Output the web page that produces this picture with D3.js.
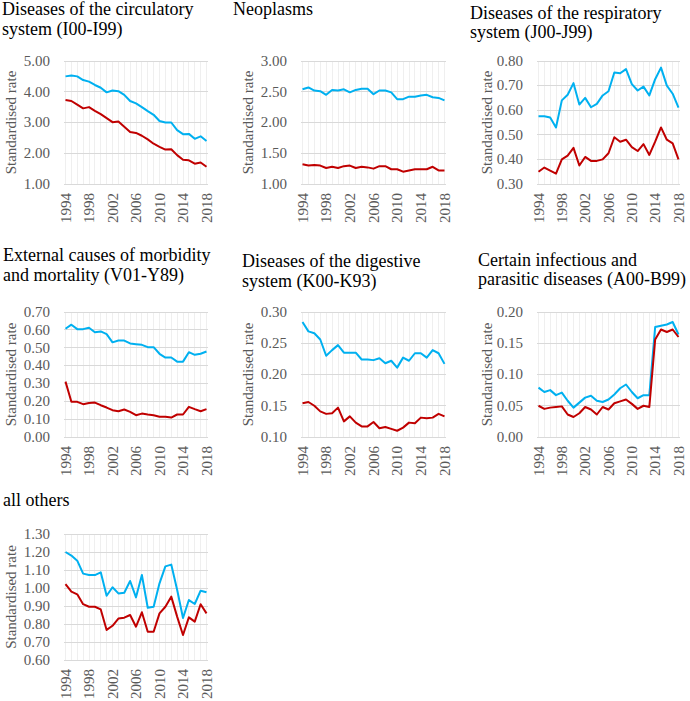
<!DOCTYPE html>
<html><head><meta charset="utf-8">
<script src="https://cdn.jsdelivr.net/npm/d3@7"></script>
<style>body{margin:0;background:#fff}</style>
</head><body>
<svg id="chart" width="690" height="701"></svg>
<script>
// ---- DATA ----
const years = [1994,1995,1996,1997,1998,1999,2000,2001,2002,2003,2004,2005,2006,2007,2008,2009,2010,2011,2012,2013,2014,2015,2016,2017,2018];
const xTickYears = [1994,1998,2002,2006,2010,2014,2018];

const circulatoryBlue = [4.50,4.53,4.50,4.38,4.33,4.22,4.13,3.98,4.04,4.02,3.90,3.70,3.62,3.50,3.37,3.25,3.05,3.00,3.00,2.75,2.62,2.63,2.47,2.55,2.40];
const circulatoryRed  = [3.73,3.70,3.58,3.46,3.50,3.38,3.27,3.14,3.01,3.03,2.86,2.69,2.66,2.57,2.45,2.31,2.21,2.12,2.13,1.94,1.79,1.77,1.66,1.70,1.56];
const circulatoryTicks = [1.00,2.00,3.00,4.00,5.00];

const neoplasmsBlue = [2.54,2.57,2.52,2.51,2.45,2.53,2.52,2.54,2.49,2.53,2.55,2.55,2.46,2.52,2.52,2.49,2.38,2.38,2.42,2.42,2.44,2.45,2.41,2.40,2.36];
const neoplasmsRed  = [1.32,1.30,1.31,1.30,1.26,1.28,1.26,1.29,1.30,1.26,1.28,1.27,1.25,1.29,1.29,1.24,1.24,1.20,1.22,1.24,1.24,1.24,1.28,1.22,1.22];
const neoplasmsTicks = [1.00,1.50,2.00,2.50,3.00];

const respiratoryBlue = [0.575,0.575,0.570,0.530,0.640,0.663,0.710,0.623,0.650,0.612,0.626,0.660,0.677,0.753,0.750,0.767,0.706,0.680,0.696,0.660,0.726,0.773,0.700,0.667,0.610];
const respiratoryRed  = [0.350,0.367,0.354,0.342,0.400,0.415,0.447,0.375,0.410,0.394,0.394,0.400,0.425,0.490,0.472,0.480,0.450,0.434,0.462,0.418,0.472,0.530,0.480,0.465,0.400];
const respiratoryTicks = [0.30,0.40,0.50,0.60,0.70,0.80];

const externalBlue = [0.606,0.629,0.604,0.604,0.612,0.587,0.591,0.576,0.530,0.540,0.540,0.524,0.520,0.516,0.503,0.503,0.466,0.445,0.445,0.422,0.422,0.475,0.460,0.466,0.479];
const externalRed  = [0.310,0.197,0.197,0.184,0.190,0.193,0.178,0.165,0.150,0.144,0.154,0.141,0.122,0.131,0.126,0.122,0.113,0.114,0.109,0.126,0.126,0.169,0.156,0.144,0.156];
const externalTicks = [0.00,0.10,0.20,0.30,0.40,0.50,0.60,0.70];

const digestiveBlue = [0.284,0.269,0.266,0.256,0.230,0.239,0.247,0.235,0.235,0.235,0.224,0.224,0.223,0.226,0.218,0.222,0.211,0.227,0.222,0.234,0.234,0.227,0.239,0.234,0.217];
const digestiveRed  = [0.154,0.156,0.150,0.141,0.137,0.138,0.147,0.125,0.133,0.123,0.117,0.117,0.124,0.114,0.116,0.113,0.110,0.115,0.123,0.122,0.131,0.130,0.131,0.137,0.133];
const digestiveTicks = [0.10,0.15,0.20,0.25,0.30];

const infectiousBlue = [0.079,0.072,0.075,0.067,0.071,0.058,0.047,0.055,0.063,0.066,0.058,0.056,0.060,0.068,0.078,0.084,0.072,0.062,0.067,0.067,0.176,0.178,0.180,0.184,0.164];
const infectiousRed  = [0.050,0.045,0.047,0.048,0.049,0.036,0.032,0.038,0.048,0.044,0.036,0.048,0.044,0.054,0.057,0.060,0.053,0.045,0.050,0.048,0.156,0.172,0.168,0.172,0.160];
const infectiousTicks = [0.00,0.05,0.10,0.15,0.20];

const othersBlue = [1.200,1.180,1.152,1.080,1.072,1.072,1.087,0.957,1.004,0.970,0.974,1.039,0.948,1.072,0.890,0.896,1.026,1.120,1.130,0.990,0.833,0.933,0.911,0.985,0.976];
const othersRed  = [1.022,0.980,0.965,0.910,0.896,0.896,0.881,0.767,0.790,0.830,0.835,0.850,0.785,0.865,0.757,0.757,0.859,0.896,0.952,0.841,0.739,0.837,0.813,0.910,0.859];
const othersTicks = [0.60,0.70,0.80,0.90,1.00,1.10,1.20,1.30];

const titles = [
  ["Diseases of the circulatory", "system (I00-I99)"],
  ["Neoplasms"],
  ["Diseases of the respiratory", "system (J00-J99)"],
  ["External causes of morbidity", "and mortality (V01-Y89)"],
  ["Diseases of the digestive", "system (K00-K93)"],
  ["Certain infectious and", "parasitic diseases (A00-B99)"],
  ["all others"]
];
const yAxisLabel = "Standardised rate";

// ---- LAYOUT ----
const colLeft  = [64, 301, 537];
const colRight = [208, 446, 680];
const colYLabelX = [11, 248, 487];
const rowTop = [61, 312, 534];
const rowBottom = [184, 437, 660];

const panels = [
  {title: titles[0], blue: circulatoryBlue, red: circulatoryRed, ticks: circulatoryTicks, col:0, row:0, tx:2,   ty:[15,35]},
  {title: titles[1], blue: neoplasmsBlue,   red: neoplasmsRed,   ticks: neoplasmsTicks,   col:1, row:0, tx:233, ty:[15]},
  {title: titles[2], blue: respiratoryBlue, red: respiratoryRed, ticks: respiratoryTicks, col:2, row:0, tx:470, ty:[19,38]},
  {title: titles[3], blue: externalBlue,    red: externalRed,    ticks: externalTicks,    col:0, row:1, tx:3,   ty:[261,281]},
  {title: titles[4], blue: digestiveBlue,   red: digestiveRed,   ticks: digestiveTicks,   col:1, row:1, tx:242, ty:[267,287]},
  {title: titles[5], blue: infectiousBlue,  red: infectiousRed,  ticks: infectiousTicks,  col:2, row:1, tx:478, ty:[266,285]},
  {title: titles[6], blue: othersBlue,      red: othersRed,      ticks: othersTicks,      col:0, row:2, tx:3,   ty:[506]}
];

const svg = d3.select("#chart");
const FONT = "'Liberation Serif'";
const BLUE = "#00B0F0", RED = "#C00000";
const fmt = d3.format(".2f");

panels.forEach(p => {
  const left = colLeft[p.col], right = colRight[p.col];
  const top = rowTop[p.row], bottom = rowBottom[p.row];
  const x = d3.scalePoint().domain(years).range([left + 1.5, right - 1.5]);
  const y = d3.scaleLinear().domain(d3.extent(p.ticks)).range([bottom, top]);

  // vertical gridlines
  svg.append("g").selectAll("line").data(years).join("line")
    .attr("x1", d => x(d)).attr("x2", d => x(d))
    .attr("y1", top).attr("y2", bottom)
    .attr("stroke", "#efefef").attr("stroke-width", 1).attr("shape-rendering", "crispEdges");
  // horizontal gridlines
  svg.append("g").selectAll("line").data(p.ticks).join("line")
    .attr("x1", left).attr("x2", right)
    .attr("y1", d => y(d)).attr("y2", d => y(d))
    .attr("stroke", "#d9d9d9").attr("stroke-width", 1).attr("shape-rendering", "crispEdges");

  // y tick labels
  p.ticks.forEach(t => {
    svg.append("text")
      .attr("x", left - 14).attr("y", y(t))
      .attr("font-family", FONT).attr("font-size", 15)
      .attr("text-anchor", "end").attr("dy", "0.32em")
      .attr("fill", "#595959").text(fmt(t));
  });

  // x tick labels (rotated)
  xTickYears.forEach(yr => {
    svg.append("text")
      .attr("transform", `translate(${x(yr)},${bottom + 9}) rotate(-90)`)
      .attr("font-family", FONT).attr("font-size", 15)
      .attr("text-anchor", "end").attr("dy", "0.35em")
      .attr("fill", "#595959").text(yr);
  });

  // y axis title
  svg.append("text")
    .attr("transform", `translate(${colYLabelX[p.col]},${(top + bottom) / 2}) rotate(-90)`)
    .attr("font-family", FONT).attr("font-size", 15)
    .attr("text-anchor", "middle").attr("dy", "0.35em")
    .attr("fill", "#595959").text(yAxisLabel);

  // lines
  const line = d3.line().x((d, i) => x(years[i])).y(d => y(d));
  svg.append("path").datum(p.blue).attr("d", line)
    .attr("fill", "none").attr("stroke", BLUE).attr("stroke-width", 2).attr("stroke-linejoin", "round");
  svg.append("path").datum(p.red).attr("d", line)
    .attr("fill", "none").attr("stroke", RED).attr("stroke-width", 2).attr("stroke-linejoin", "round");

  // title
  p.title.forEach((t, i) => {
    svg.append("text").attr("x", p.tx).attr("y", p.ty[i])
      .attr("font-family", FONT).attr("font-size", 18)
      .attr("fill", "#000").text(t);
  });
});
</script>
</body></html>
